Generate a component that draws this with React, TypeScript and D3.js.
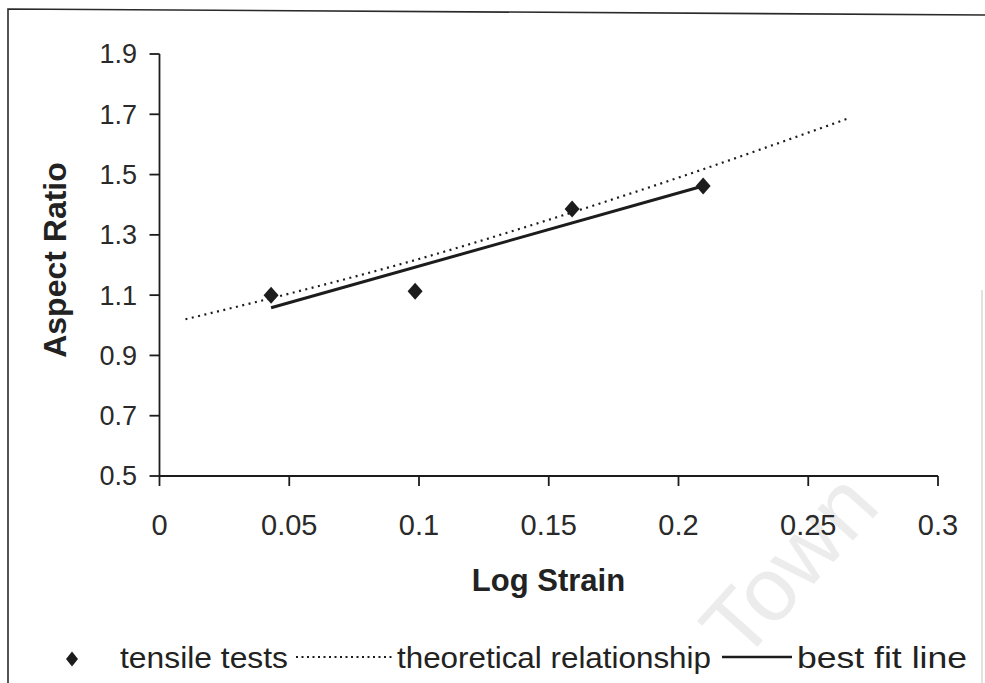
import React from "react";
import * as d3 from "d3";

const strainTests = [0.043, 0.0985, 0.159, 0.2095];
const ratioTests = [1.10, 1.113, 1.386, 1.462];

const strainTheory = [0.01, 0.05, 0.1, 0.15, 0.2, 0.265];
const ratioTheory = [1.02, 1.105, 1.22, 1.35, 1.49, 1.685];

const strainFit = [0.043, 0.2095];
const ratioFit = [1.058, 1.462];

const xTicks = [0, 0.05, 0.1, 0.15, 0.2, 0.25, 0.3];
const xTickLabels = ["0", "0.05", "0.1", "0.15", "0.2", "0.25", "0.3"];
const yTicks = [0.5, 0.7, 0.9, 1.1, 1.3, 1.5, 1.7, 1.9];
const yTickLabels = ["0.5", "0.7", "0.9", "1.1", "1.3", "1.5", "1.7", "1.9"];

const legendLabels = ["tensile tests", "theoretical relationship", "best fit line"];

const W = 985;
const H = 683;
const INK = "#1c1c1c";
const FONT = "'Liberation Sans', Arial, Helvetica, sans-serif";

export default function App() {
  const x = d3.scaleLinear().domain([0, 0.3]).range([159.5, 938]);
  const y = d3.scaleLinear().domain([0.5, 1.9]).range([476, 54]);

  const line = d3
    .line<[number, number]>()
    .x((d) => x(d[0]))
    .y((d) => y(d[1]));
  const theoryCurve = d3
    .line<[number, number]>()
    .x((d) => x(d[0]))
    .y((d) => y(d[1]))
    .curve(d3.curveMonotoneX);

  const theoryPts: [number, number][] = strainTheory.map((s, i) => [s, ratioTheory[i]]);
  const fitPts: [number, number][] = strainFit.map((s, i) => [s, ratioFit[i]]);

  const diamond = (cx: number, cy: number, hw: number, hh: number) =>
    `M${cx},${cy - hh}L${cx + hw},${cy}L${cx},${cy + hh}L${cx - hw},${cy}Z`;

  return (
    <svg
      width={W}
      height={H}
      viewBox={`0 0 ${W} ${H}`}
      style={{ position: "absolute", left: 0, top: 0, background: "#fff" }}
      fontFamily={FONT}
    >
      <rect x={0} y={0} width={W} height={H} fill="#fff" />

      {/* watermark */}
      <text
        x={0}
        y={0}
        transform="translate(812,586) rotate(-48)"
        textAnchor="middle"
        fontSize={90}
        fill="#ececec"
        fontFamily={FONT}
      >
        Town
      </text>

      {/* frame */}
      <path d={`M8,683L8,9L985,15`} fill="none" stroke="#2a2a2a" strokeWidth={1.6} />
      <line x1={982} y1={290} x2={982} y2={683} stroke="#e2e2e2" strokeWidth={2} />

      {/* y axis */}
      <line x1={x(0)} y1={y(0.5)} x2={x(0)} y2={y(1.9)} stroke={INK} strokeWidth={1.8} />
      {yTicks.map((t, i) => (
        <g key={"yt" + i}>
          <line x1={x(0) - 10} x2={x(0)} y1={y(t)} y2={y(t)} stroke={INK} strokeWidth={1.8} />
          <text x={137} y={y(t)} dy="0.35em" textAnchor="end" fontSize={27} fill="#2a2a2a">
            {yTickLabels[i]}
          </text>
        </g>
      ))}

      {/* x axis */}
      <line x1={x(0)} y1={y(0.5)} x2={x(0.3)} y2={y(0.5)} stroke={INK} strokeWidth={1.8} />
      {xTicks.map((t, i) => (
        <g key={"xt" + i}>
          <line x1={x(t)} x2={x(t)} y1={y(0.5)} y2={y(0.5) + 10} stroke={INK} strokeWidth={1.8} />
          <text x={x(t)} y={535} textAnchor="middle" fontSize={29} fill="#2a2a2a">
            {xTickLabels[i]}
          </text>
        </g>
      ))}

      {/* axis titles */}
      <text x={548.5} y={591} textAnchor="middle" fontSize={31} fontWeight="bold" fill="#222">
        Log Strain
      </text>
      <text
        transform="translate(66,260) rotate(-90)"
        textAnchor="middle"
        fontSize={32}
        fontWeight="bold"
        fill="#222"
      >
        Aspect Ratio
      </text>

      {/* theoretical relationship */}
      <path
        d={theoryCurve(theoryPts) || ""}
        fill="none"
        stroke={INK}
        strokeWidth={2.2}
        strokeDasharray="2 4.5"
      />
      {/* best fit */}
      <path d={line(fitPts) || ""} fill="none" stroke={INK} strokeWidth={3} />

      {/* tensile tests */}
      {strainTests.map((s, i) => (
        <path key={"p" + i} d={diamond(x(s), y(ratioTests[i]), 7.5, 8.5)} fill={INK} />
      ))}

      {/* legend */}
      <path d={diamond(72, 659, 6, 7.5)} fill={INK} />
      <text x={120} y={668} fontSize={30} fill="#222" textLength={168} lengthAdjust="spacingAndGlyphs">
        {legendLabels[0]}
      </text>
      <line x1={296} x2={392} y1={657} y2={657} stroke={INK} strokeWidth={2} strokeDasharray="2 3.5" />
      <text x={397} y={668} fontSize={30} fill="#222" textLength={314} lengthAdjust="spacingAndGlyphs">
        {legendLabels[1]}
      </text>
      <line x1={722} x2={792} y1={657} y2={657} stroke={INK} strokeWidth={2.5} />
      <text x={797} y={668} fontSize={30} fill="#222" textLength={170} lengthAdjust="spacingAndGlyphs">
        {legendLabels[2]}
      </text>
    </svg>
  );
}
